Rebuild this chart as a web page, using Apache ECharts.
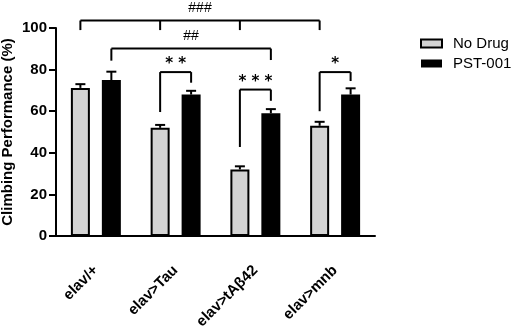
<!DOCTYPE html>
<html>
<head>
<meta charset="utf-8">
<script src="https://cdn.jsdelivr.net/npm/echarts@6/dist/echarts.min.js"></script>
<style>
  html, body { margin: 0; padding: 0; background: #fff; }
  #chart { width: 512px; height: 329px; }
</style>
</head>
<body>
<div id="chart"></div>
<script>
// 数据
var categories = ['elav/+', 'elav>Tau', 'elav>tAβ42', 'elav>mnb'];
var noDrug = [71.2, 52, 32, 53];
var noDrugErr = [1.8, 1.4, 1.5, 1.9];
var pst = [75, 68, 59, 68];
var pstErr = [4, 1.8, 2, 3];
var yTicks = [0, 20, 40, 60, 80, 100];

// 显著性标注: 每条括号的文字, 横线高度, 脚 [类别, 组(0=No Drug,1=PST-001), 下端值]
var bracketLabels = ['###', '##', '* *', '* * *', '*'];
var bracketTops = [103.6, 90.1, 78.8, 70.4, 78.8];
var bracketFeet = [
    [[0, 0, 99], [1, 0, 99], [2, 0, 99], [3, 0, 99]],
    [[0, 1, 84.3], [2, 1, 84.6]],
    [[1, 0, 59.6], [1, 1, 73.7]],
    [[2, 0, 42.8], [2, 1, 65]],
    [[3, 0, 60], [3, 1, 74.5]]
];

var FONT = 'Liberation Sans, Arial, Helvetica, sans-serif';
var BAR_W = 19;
var GAP_RATIO = 0.63;
var OFFSET = (BAR_W + BAR_W * GAP_RATIO) / 2;

function groupX(api, cat, grp) {
    var p = api.coord([cat, 0]);
    return p[0] + (grp === 0 ? -OFFSET : OFFSET);
}

// 误差线 (只画上半)
function errRender(grp, errs) {
    return function (params, api) {
        var cat = api.value(0);
        var v = api.value(1);
        var x = groupX(api, cat, grp);
        var top = api.coord([cat, v + errs[params.dataIndex]])[1];
        var base = api.coord([cat, v])[1];
        var style = { stroke: '#000', lineWidth: 2 };
        return {
            type: 'group',
            children: [
                { type: 'line', shape: { x1: x, y1: base, x2: x, y2: top }, style: style },
                { type: 'line', shape: { x1: x - 5, y1: top, x2: x + 5, y2: top }, style: style }
            ]
        };
    };
}

function bracketRender(params, api) {
    var i = params.dataIndex;
    var feet = bracketFeet[i];
    var yTop = api.coord([0, bracketTops[i]])[1];
    var xs = feet.map(function (f) { return groupX(api, f[0], f[1]); });
    var style = { stroke: '#000', lineWidth: 2 };
    var children = [
        { type: 'line', shape: { x1: xs[0], y1: yTop, x2: xs[xs.length - 1], y2: yTop }, style: style }
    ];
    feet.forEach(function (f, k) {
        var yb = api.coord([0, f[2]])[1];
        children.push({ type: 'line', shape: { x1: xs[k], y1: yTop, x2: xs[k], y2: yb }, style: style });
    });
    var isHash = bracketLabels[i].indexOf('#') >= 0;
    children.push({
        type: 'text',
        style: {
            text: bracketLabels[i],
            x: (xs[0] + xs[xs.length - 1]) / 2,
            y: yTop - (isHash ? 5 : 0),
            align: 'center',
            verticalAlign: 'bottom',
            fill: '#000',
            font: isHash ? ('14px ' + FONT) : ('bold 15px DejaVu Sans, sans-serif')
        }
    });
    return { type: 'group', children: children };
}

var myChart = echarts.init(document.getElementById('chart'), null, { renderer: 'canvas' });

var option = {
    animation: false,
    backgroundColor: '#fff',
    textStyle: { fontFamily: FONT, color: '#000' },
    grid: { left: 56, right: 137, top: 28, bottom: 93, outerBoundsMode: 'none', containLabel: false },
    legend: {
        orient: 'vertical',
        left: 415,
        top: 31,
        itemWidth: 21,
        itemHeight: 8,
        itemGap: 5,
        icon: 'rect',
        textStyle: { fontSize: 15, color: '#000', fontFamily: FONT, padding: [0, 0, 0, 6] },
        data: ['No Drug', 'PST-001']
    },
    xAxis: {
        type: 'category',
        data: categories,
        axisLine: { lineStyle: { color: '#000', width: 2 } },
        axisTick: { alignWithLabel: true, length: 7, lineStyle: { color: '#000', width: 2 } },
        axisLabel: { rotate: 45, margin: 32, fontSize: 15, fontWeight: 'bold', color: '#000', fontFamily: FONT, interval: 0 }
    },
    yAxis: {
        type: 'value',
        min: 0,
        max: 100,
        interval: 20,
        name: 'Climbing Performance (%)',
        nameLocation: 'middle',
        nameGap: 41,
        nameMoveOverlap: false,
        nameTextStyle: { fontSize: 15, fontWeight: 'bold', color: '#000', fontFamily: FONT },
        axisLine: { show: true, lineStyle: { color: '#000', width: 2 } },
        axisTick: { show: true, length: 7, lineStyle: { color: '#000', width: 2 } },
        axisLabel: {
            fontSize: 15, fontWeight: 'bold', color: '#000', fontFamily: FONT, margin: 9,
            formatter: function (v) { return yTicks.indexOf(v) >= 0 ? String(v) : ''; }
        },
        splitLine: { show: false }
    },
    series: [
        {
            name: 'No Drug',
            type: 'bar',
            data: noDrug,
            barWidth: BAR_W,
            barGap: (GAP_RATIO * 100) + '%',
            itemStyle: { color: '#d4d4d4', borderColor: '#000', borderWidth: 2 }
        },
        {
            name: 'PST-001',
            type: 'bar',
            data: pst,
            barWidth: BAR_W,
            barGap: (GAP_RATIO * 100) + '%',
            itemStyle: { color: '#000', borderColor: '#000', borderWidth: 0 }
        },
        {
            type: 'custom',
            silent: true,
            clip: false,
            z: 5,
            renderItem: errRender(0, noDrugErr),
            data: noDrug.map(function (v, i) { return [i, v]; })
        },
        {
            type: 'custom',
            silent: true,
            clip: false,
            z: 5,
            renderItem: errRender(1, pstErr),
            data: pst.map(function (v, i) { return [i, v]; })
        },
        {
            type: 'custom',
            silent: true,
            clip: false,
            z: 6,
            renderItem: bracketRender,
            data: bracketTops.map(function (v) { return [0, v]; })
        }
    ]
};

myChart.setOption(option);
</script>
</body>
</html>
